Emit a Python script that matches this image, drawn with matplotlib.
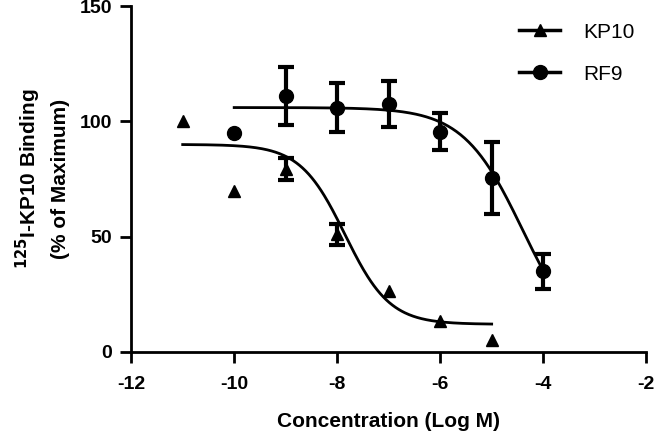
import matplotlib
matplotlib.use('Agg')
import matplotlib.pyplot as plt
import numpy as np

plt.rcParams['font.family'] = ['Liberation Sans', 'DejaVu Sans']
plt.rcParams['axes.unicode_minus'] = False

# KP10 data (mean, sem)
kp10_x = [-11, -10, -9, -8, -7, -6, -5]
kp10_y = [100, 70, 79.5, 51, 26.5, 13.5, 5]
kp10_err = [0, 0, 4.8, 4.5, 0, 0, 0]

# RF9 data
rf9_x = [-10, -9, -8, -7, -6, -5, -4]
rf9_y = [95, 111, 106, 107.5, 95.5, 75.5, 35]
rf9_err = [0, 12.5, 10.5, 10, 8, 15.5, 7.5]

# fitted curve parameters: top, bottom, logIC50, hill slope, x range
kp10_fit = (90, 12, -7.85, 1.0, -11, -5)
rf9_fit = (106, 0, -4.4, 0.75, -10, -4)


def hill(p):
    top, bot, c, h, x0, x1 = p
    xs = np.linspace(x0, x1, 300)
    return xs, bot + (top - bot) / (1 + 10 ** ((xs - c) * h))


def bars(ax, x, y, e):
    x, y, e = np.array(x), np.array(y), np.array(e)
    m = e > 0
    ax.errorbar(x[m], y[m], yerr=e[m], fmt='none', ecolor='k',
                elinewidth=3, capsize=6, capthick=3)


fig = plt.figure(figsize=(6.56, 4.34), dpi=100)
ax = fig.add_axes([0.2, 0.189, 0.785, 0.797])

xs, ys = hill(kp10_fit)
ax.plot(xs, ys, 'k-', lw=2)
xs, ys = hill(rf9_fit)
ax.plot(xs, ys, 'k-', lw=2)

bars(ax, kp10_x, kp10_y, kp10_err)
bars(ax, rf9_x, rf9_y, rf9_err)
ax.plot(kp10_x, kp10_y, '^', color='k', ms=9)
ax.plot(rf9_x, rf9_y, 'o', color='k', ms=10)

# legend handles
h1, = ax.plot([], [], 'k-^', lw=2.5, ms=9, label='KP10')
h2, = ax.plot([], [], 'k-o', lw=2.5, ms=10, label='RF9')
ax.legend(handles=[h1, h2], loc='upper right', frameon=False, fontsize=15,
          handlelength=2.0, handletextpad=1.1, borderaxespad=0.4,
          labelspacing=1.1, bbox_to_anchor=(1.01, 1.0))

ax.set_xlim(-12, -2)
ax.set_ylim(0, 150)
ax.set_xticks([-12, -10, -8, -6, -4, -2])
ax.set_yticks([0, 50, 100, 150])
for s in ['top', 'right']:
    ax.spines[s].set_visible(False)
for s in ['left', 'bottom']:
    ax.spines[s].set_linewidth(2)
ax.tick_params(width=2, length=8, labelsize=14)
ax.tick_params(axis='x', pad=9)
ax.tick_params(axis='y', pad=6)
for lab in ax.get_xticklabels() + ax.get_yticklabels():
    lab.set_fontweight('bold')

ax.set_xlabel('Concentration (Log M)', fontsize=15, fontweight='bold', labelpad=14)
ax.set_ylabel('$^{\\mathbf{125}}$I-KP10 Binding\n(% of Maximum)', fontsize=15,
              fontweight='bold', labelpad=7, linespacing=1.5)

fig.savefig('out.png', dpi=100)
